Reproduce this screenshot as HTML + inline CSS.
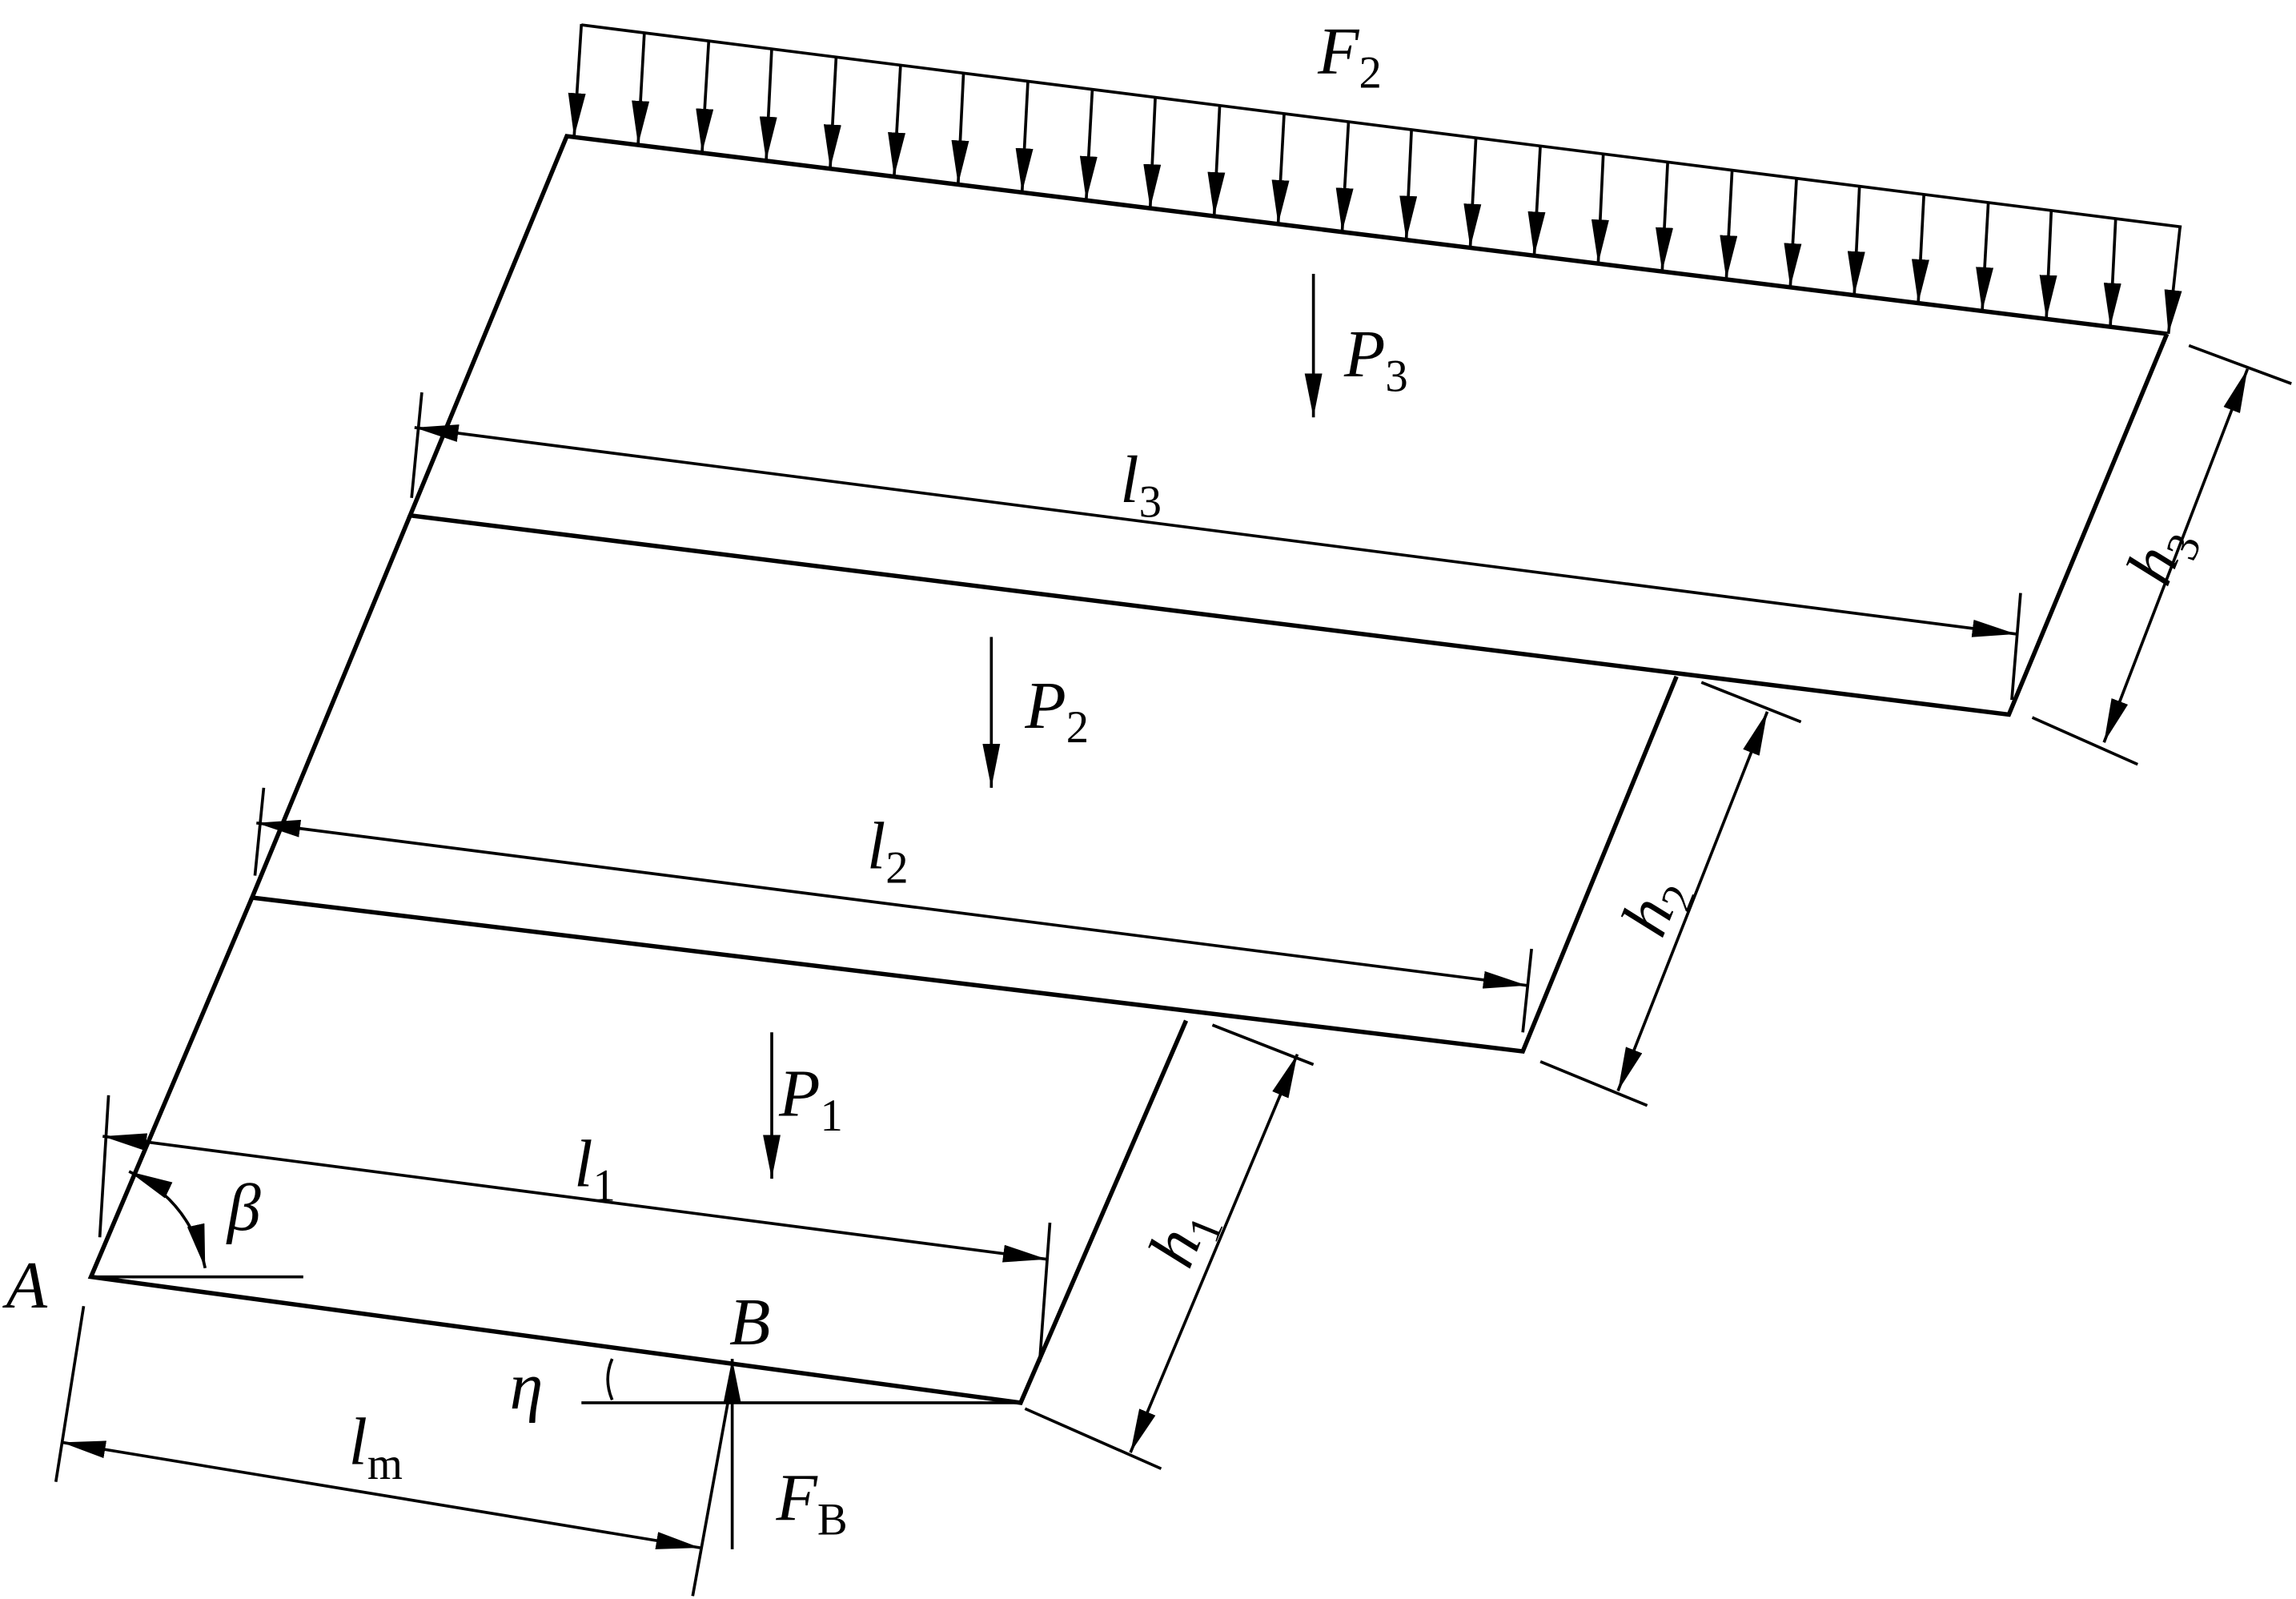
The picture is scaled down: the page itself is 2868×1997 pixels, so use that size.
<!DOCTYPE html>
<html><head><meta charset="utf-8"><style>
html,body{margin:0;padding:0;background:#fff;}
svg{display:block;}
text{font-family:"Liberation Serif",serif;font-style:italic;fill:#000;}
.s{font-style:normal;}
</style></head><body>
<svg width="2868" height="1997" viewBox="0 0 1568 1092" xmlns="http://www.w3.org/2000/svg">
<defs>
<marker id="b" viewBox="0 0 30 12" refX="30" refY="6" markerWidth="30" markerHeight="12" markerUnits="userSpaceOnUse" orient="auto-start-reverse">
<path d="M0,0 L30,6 L0,12 z" fill="#000"/></marker>
</defs>
<g stroke="#000" fill="none" stroke-width="3">
<polyline points="1480,228 387,93 280,352 1372,488 1480,228"/>
<polyline points="280,352 172,613 1040,718 1145,462"/>
<polyline points="172,613 62,872 697,958 810,697"/>
</g>
<g stroke="#000" fill="none" stroke-width="2">
<line x1="397" y1="17" x2="1490" y2="155"/>
<g marker-end="url(#b)">
<line x1="397" y1="16.4" x2="392" y2="93.6"/>
<line x1="440" y1="21.9" x2="435.7" y2="98.9"/>
<line x1="484" y1="27.4" x2="479.4" y2="104.3"/>
<line x1="527" y1="32.9" x2="523.2" y2="109.7"/>
<line x1="571" y1="38.5" x2="566.9" y2="115.1"/>
<line x1="615" y1="44" x2="610.6" y2="120.5"/>
<line x1="658" y1="49.5" x2="654.3" y2="125.9"/>
<line x1="702" y1="55" x2="698" y2="131.3"/>
<line x1="746" y1="60.5" x2="741.8" y2="136.7"/>
<line x1="789" y1="66" x2="785.5" y2="142.2"/>
<line x1="833" y1="71.6" x2="829.2" y2="147.6"/>
<line x1="877" y1="77.1" x2="872.9" y2="153"/>
<line x1="921" y1="82.6" x2="916.6" y2="158.4"/>
<line x1="964" y1="88.1" x2="960.4" y2="163.8"/>
<line x1="1008" y1="93.6" x2="1004.1" y2="169.2"/>
<line x1="1052" y1="99.2" x2="1047.8" y2="174.6"/>
<line x1="1095" y1="104.7" x2="1091.5" y2="180"/>
<line x1="1139" y1="110.2" x2="1135.2" y2="185.4"/>
<line x1="1183" y1="115.7" x2="1179" y2="190.8"/>
<line x1="1227" y1="121.2" x2="1222.7" y2="196.2"/>
<line x1="1270" y1="126.7" x2="1266.4" y2="201.7"/>
<line x1="1314" y1="132.3" x2="1310.1" y2="207.1"/>
<line x1="1358" y1="137.8" x2="1353.8" y2="212.5"/>
<line x1="1401" y1="143.3" x2="1397.6" y2="217.9"/>
<line x1="1445" y1="148.8" x2="1441.3" y2="223.3"/>
<line x1="1489" y1="154.4" x2="1481" y2="228"/>
</g>
<line x1="288" y1="268" x2="281" y2="340"/>
<line x1="1380" y1="405" x2="1374" y2="478"/>
<line x1="283" y1="292" x2="1377" y2="433" marker-start="url(#b)" marker-end="url(#b)"/>
<line x1="180" y1="538" x2="174" y2="598"/>
<line x1="1046" y1="648" x2="1040" y2="705"/>
<line x1="175" y1="562" x2="1043" y2="673" marker-start="url(#b)" marker-end="url(#b)"/>
<line x1="74" y1="748" x2="68" y2="845"/>
<line x1="717" y1="835" x2="710" y2="930"/>
<line x1="70" y1="776" x2="715" y2="860" marker-start="url(#b)" marker-end="url(#b)"/>
<line x1="1495" y1="236" x2="1565" y2="262"/>
<line x1="1388" y1="490" x2="1460" y2="522"/>
<line x1="1535" y1="252" x2="1437" y2="507" marker-start="url(#b)" marker-end="url(#b)"/>
<line x1="1162" y1="466" x2="1230" y2="493"/>
<line x1="1052" y1="725" x2="1125" y2="755"/>
<line x1="1207" y1="486" x2="1105" y2="745" marker-start="url(#b)" marker-end="url(#b)"/>
<line x1="828" y1="700" x2="897" y2="727"/>
<line x1="700" y1="962" x2="793" y2="1003"/>
<line x1="886" y1="720" x2="772" y2="992" marker-start="url(#b)" marker-end="url(#b)"/>
<line x1="57" y1="892" x2="38" y2="1012"/>
<line x1="42" y1="985" x2="478" y2="1057" marker-start="url(#b)" marker-end="url(#b)"/>
<line x1="497" y1="958" x2="473" y2="1090"/>
<line x1="62" y1="872" x2="207" y2="872"/>
<line x1="397" y1="958" x2="697" y2="958"/>
<path d="M418,928 Q412,942 418,956"/>
<path d="M88,800 Q130,820 140,866" marker-start="url(#b)" marker-end="url(#b)"/>
<line x1="500" y1="1058" x2="500" y2="928" marker-end="url(#b)"/>
<line x1="897" y1="187" x2="897" y2="285" marker-end="url(#b)"/>
<line x1="677" y1="435" x2="677" y2="538" marker-end="url(#b)"/>
<line x1="527" y1="705" x2="527" y2="805" marker-end="url(#b)"/>
</g>
<text x="900" y="50" font-size="46">F<tspan class="s" font-size="31" dy="10">2</tspan></text>
<text x="918" y="257" font-size="46">P<tspan class="s" font-size="31" dy="10">3</tspan></text>
<text x="765" y="343" font-size="46">l<tspan class="s" font-size="31" dy="10">3</tspan></text>
<text x="700" y="497" font-size="46">P<tspan class="s" font-size="31" dy="10">2</tspan></text>
<text x="592" y="593" font-size="46">l<tspan class="s" font-size="31" dy="10">2</tspan></text>
<text x="532" y="762" font-size="46">P<tspan class="s" font-size="31" dy="10">1</tspan></text>
<text x="392" y="810" font-size="46">l<tspan class="s" font-size="31" dy="10">1</tspan></text>
<text x="155" y="840" font-size="46">β</text>
<text x="4" y="893" font-size="46">A</text>
<text x="498" y="918" font-size="46">B</text>
<text x="348" y="962" font-size="46">η</text>
<text x="238" y="1000" font-size="46">l<tspan class="s" font-size="31" dy="10">m</tspan></text>
<text x="530" y="1038" font-size="46">F<tspan class="s" font-size="31" dy="10">B</tspan></text>
<text transform="translate(812,868) rotate(-68)" font-size="46">h<tspan class="s" font-size="31" dy="10">1</tspan></text>
<text transform="translate(1135,642) rotate(-68)" font-size="46">h<tspan class="s" font-size="31" dy="10">2</tspan></text>
<text transform="translate(1480,402) rotate(-68)" font-size="46">h<tspan class="s" font-size="31" dy="10">3</tspan></text>
</svg>
</body></html>
